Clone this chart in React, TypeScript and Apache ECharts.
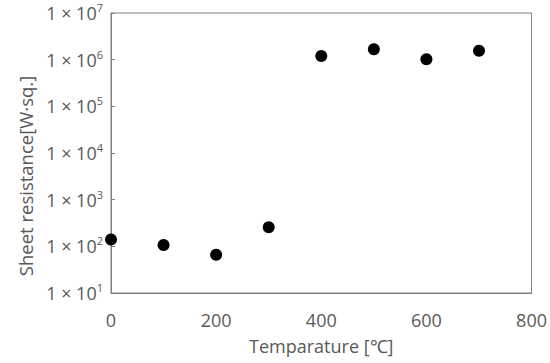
import React, { useEffect, useRef } from "react";
import * as echarts from "echarts";

const temperatures = [0, 100, 200, 300, 400, 500, 600, 700];
const resistances = [140, 107, 66, 257, 1.2e6, 1.67e6, 1.02e6, 1.55e6];
const xTicks = [0, 200, 400, 600, 800];

const gray = "#595959";
const lineGray = "#7f7f7f";
const font = "Open Sans";

export default function App() {
  const ref = useRef<HTMLDivElement>(null);
  useEffect(() => {
    if (!ref.current) return;
    const chart = echarts.init(ref.current, undefined, { renderer: "svg" });
    chart.setOption({
      animation: false,
      grid: {
        left: 111,
        right: 18,
        top: 13,
        bottom: 70,
        show: true,
        borderColor: lineGray,
        borderWidth: 1,
        backgroundColor: "transparent",
      },
      xAxis: {
        type: "value",
        min: xTicks[0],
        max: xTicks[xTicks.length - 1],
        interval: 200,
        name: "Temparature [℃]",
        nameLocation: "middle",
        nameGap: 44,
        nameTextStyle: { color: gray, fontSize: 18, fontFamily: font },
        axisLine: { show: true, lineStyle: { color: lineGray, width: 1 } },
        axisTick: { show: false },
        splitLine: { show: false },
        axisLabel: { color: gray, fontSize: 18, fontFamily: font, margin: 18 },
      },
      yAxis: {
        type: "log",
        logBase: 10,
        min: 10,
        max: 1e7,
        name: "Sheet resistance[W·sq.]",
        nameLocation: "middle",
        nameGap: 71,
        nameTextStyle: { color: gray, fontSize: 18.5, fontFamily: font, padding: [0, 46, 0, 0] },
        axisLine: { show: true, lineStyle: { color: lineGray, width: 1 } },
        axisTick: { show: true, inside: true, length: 4, lineStyle: { color: lineGray } },
        splitLine: { show: false },
        axisLabel: {
          margin: 8,
          formatter: (v: number) => {
            const e = Math.round(Math.log10(v));
            return "{b|1 × 10}{s|" + e + "}";
          },
          rich: {
            b: { color: gray, fontSize: 18, fontFamily: font },
            s: { color: gray, fontSize: 11, fontFamily: font, padding: [0, 0, 11, 0] },
          },
        },
      },
      series: [
        {
          type: "scatter",
          data: temperatures.map((t, i) => [t, resistances[i]]),
          symbol: "circle",
          symbolSize: 12,
          itemStyle: { color: "#000000", opacity: 1 },
          clip: false,
        },
      ],
    });
    return () => chart.dispose();
  }, []);
  return <div ref={ref} style={{ width: 550, height: 363, position: "absolute", left: 0, top: 0 }} />;
}
